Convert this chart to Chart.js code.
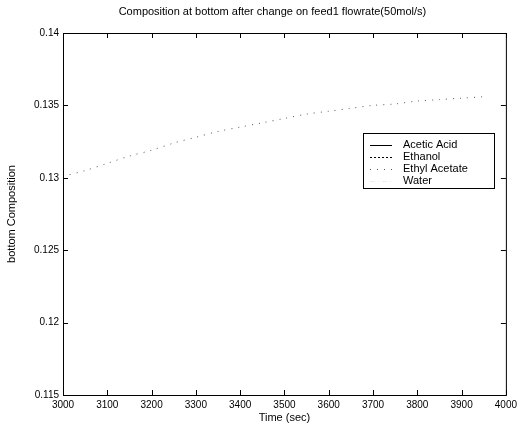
<!DOCTYPE html>
<html>
<head>
<meta charset="utf-8">
<script src="https://cdn.jsdelivr.net/npm/chart.js@4/dist/chart.umd.min.js"></script>
<style>
    html, body { margin: 0; padding: 0; background: #fff; }
    #wrap { width: 521px; height: 432px; }
</style>
</head>
<body>
<div id="wrap"><canvas id="comp-chart"></canvas></div>
<script>
// time axis (sec) and bottom composition
const times = [3000, 3050, 3100, 3150, 3200, 3250, 3300, 3350, 3400, 3450,
               3500, 3550, 3600, 3650, 3700, 3750, 3800, 3850, 3900, 3950];
const ethylAcetate = [0.1301, 0.1305, 0.1310, 0.1315, 0.1319, 0.1324, 0.1328, 0.1332, 0.1335, 0.1338,
                      0.1341, 0.1344, 0.1346, 0.1348, 0.1350, 0.1351, 0.1353, 0.1354, 0.1355, 0.1356];
// the other components sit outside the plotted window
const aceticAcid = [];
const ethanol = [];
const water = [];

const seriesNames = ['Acetic Acid', 'Ethanol', 'Ethyl Acetate', 'Water'];
const xTicks = [3000, 3100, 3200, 3300, 3400, 3500, 3600, 3700, 3800, 3900, 4000];
const yTicks = [0.115, 0.12, 0.125, 0.13, 0.135, 0.14];
const chartTitle = 'Composition at bottom after change on feed1 flowrate(50mol/s)';

const FONT = '"Liberation Sans", Arial, sans-serif';

function toPoints(ys) {
    return ys.map((y, i) => ({x: times[i], y: y}));
}

// matlab-ish frame: box, inward ticks, title and legend
const matlabFrame = {
    id: 'matlabFrame',
    afterDraw(chart) {
        const ctx = chart.ctx;
        const a = chart.chartArea;
        const xs = chart.scales.x;
        const ys = chart.scales.y;
        ctx.save();
        ctx.strokeStyle = '#000';
        ctx.lineWidth = 1;
        ctx.strokeRect(a.left + 0.5, a.top + 0.5, a.right - a.left, a.bottom - a.top);

        ctx.beginPath();
        xTicks.forEach(t => {
            const px = Math.round(xs.getPixelForValue(t)) + 0.5;
            ctx.moveTo(px, a.bottom); ctx.lineTo(px, a.bottom - 5);
            ctx.moveTo(px, a.top); ctx.lineTo(px, a.top + 5);
        });
        yTicks.forEach(t => {
            const py = Math.round(ys.getPixelForValue(t)) + 0.5;
            ctx.moveTo(a.left, py); ctx.lineTo(a.left + 5, py);
            ctx.moveTo(a.right, py); ctx.lineTo(a.right - 5, py);
        });
        ctx.stroke();

        // title
        ctx.fillStyle = '#000';
        ctx.font = '11px ' + FONT;
        ctx.textAlign = 'center';
        ctx.textBaseline = 'middle';
        ctx.fillText(chartTitle, (a.left + a.right) / 2 - 12, 12);

        // legend
        const lx = 363, ly = 133, lw = 131, lh = 55;
        ctx.fillStyle = '#fff';
        ctx.fillRect(lx, ly, lw, lh);
        ctx.strokeRect(lx + 0.5, ly + 0.5, lw, lh);
        ctx.font = '11px ' + FONT;
        ctx.textAlign = 'left';
        chart.data.datasets.forEach((ds, i) => {
            const y = ly + 12 + i * 12;
            ctx.beginPath();
            ctx.strokeStyle = ds.borderColor;
            ctx.setLineDash(ds.borderDash || []);
            ctx.moveTo(lx + 7, y + 0.5);
            ctx.lineTo(lx + 29, y + 0.5);
            ctx.stroke();
            ctx.setLineDash([]);
            ctx.fillStyle = '#000';
            ctx.fillText(ds.label, lx + 40, y);
        });
        ctx.restore();
    }
};

const ctx = document.querySelector('#comp-chart').getContext('2d');
new Chart(ctx, {
    type: 'line',
    data: {
        datasets: [
            {label: seriesNames[0], data: toPoints(aceticAcid), borderColor: '#000', borderWidth: 1},
            {label: seriesNames[1], data: toPoints(ethanol), borderColor: '#000', borderWidth: 1, borderDash: [2, 2]},
            {label: seriesNames[2], data: toPoints(ethylAcetate), borderColor: '#555', borderWidth: 1, borderDash: [1, 6]},
            {label: seriesNames[3], data: toPoints(water), borderColor: '#eee', borderWidth: 1, borderDash: [5, 3, 1, 3]},
        ],
    },
    options: {
        animation: false,
        responsive: true,
        maintainAspectRatio: false,
        layout: {
            padding: {top: 33, right: 13, left: 0, bottom: 0},
        },
        elements: {
            point: {radius: 0, hoverRadius: 0},
            line: {tension: 0.3},
        },
        scales: {
            x: {
                type: 'linear',
                min: 3000,
                max: 4000,
                grid: {display: false, drawTicks: false},
                border: {display: false},
                afterFit: function(scale) { scale.height = 37; },
                afterBuildTicks: function(scale) {
                    scale.ticks = xTicks.map(v => ({value: v}));
                },
                ticks: {
                    color: '#000',
                    padding: 4,
                    maxRotation: 0,
                    autoSkip: false,
                    font: {family: FONT, size: 10},
                    callback: v => String(v),
                },
                title: {
                    display: true,
                    text: 'Time (sec)',
                    color: '#000',
                    padding: {top: 2, bottom: 7},
                    font: {family: FONT, size: 11},
                },
            },
            y: {
                min: 0.115,
                max: 0.14,
                grid: {display: false, drawTicks: false},
                border: {display: false},
                afterFit: function(scale) { scale.width = 63; },
                afterBuildTicks: function(scale) {
                    scale.ticks = yTicks.map(v => ({value: v}));
                },
                ticks: {
                    color: '#000',
                    padding: 4,
                    autoSkip: false,
                    font: {family: FONT, size: 10},
                    callback: v => String(Number(v.toFixed(3))),
                },
                title: {
                    display: true,
                    text: 'bottom Composition',
                    color: '#000',
                    padding: {top: 5, bottom: 0},
                    font: {family: FONT, size: 11},
                },
            },
        },
        plugins: {
            legend: {display: false},
            title: {display: false},
            tooltip: {enabled: false},
        },
    },
    plugins: [matlabFrame],
});
</script>
</body>
</html>
